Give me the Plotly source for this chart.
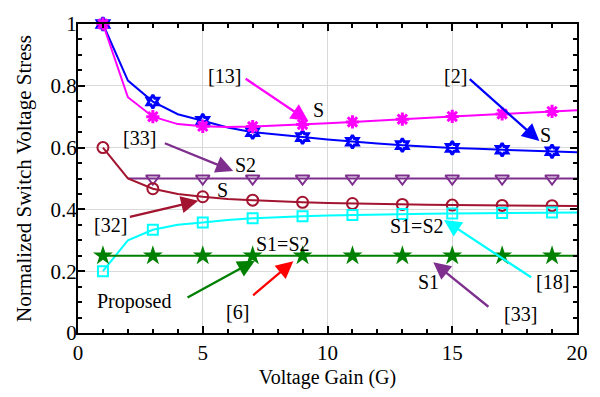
import plotly.graph_objects as go

# ---------------- data ----------------
gain = list(range(1, 21))
ref2_S = [1.0, 0.817, 0.749, 0.708, 0.687, 0.665, 0.650, 0.641, 0.634, 0.626,
          0.619, 0.613, 0.608, 0.603, 0.599, 0.596, 0.593, 0.590, 0.588, 0.585]
ref13_S = [1.0, 0.763, 0.700, 0.676, 0.669, 0.667, 0.668, 0.671, 0.675, 0.679,
           0.683, 0.688, 0.692, 0.697, 0.701, 0.705, 0.709, 0.713, 0.717, 0.721]
gain33 = list(range(2, 21))
ref33_S2 = [0.5] * 19
ref32_S = [0.600, 0.500, 0.467, 0.450, 0.441, 0.434, 0.430, 0.426, 0.423, 0.421,
           0.419, 0.417, 0.416, 0.415, 0.414, 0.413, 0.413, 0.412, 0.412, 0.411]
ref18_S = [0.200, 0.300, 0.334, 0.350, 0.358, 0.366, 0.371, 0.375, 0.378, 0.380,
           0.382, 0.383, 0.385, 0.386, 0.387, 0.388, 0.388, 0.389, 0.390, 0.390]
proposed = [0.25] * 20

x_ticks = [0, 5, 10, 15, 20]
y_ticks = [0, 0.2, 0.4, 0.6, 0.8, 1.0]

BLUE = "#0000FF"
MAG = "#FF00FF"
PURP = "#7E2F8E"
DRED = "#A2142F"
CYAN = "#00FFFF"
GREEN = "#008000"
RED = "#FF0000"
FONT = "Liberation Serif"

fig = go.Figure()

series = [
    (gain, ref2_S, BLUE, "hexagram-open", 10, 3, "[2]"),
    (gain, ref13_S, MAG, "asterisk-open", 11, 3, "[13]"),
    (gain33, ref33_S2, PURP, "triangle-down-open", 12, 2, "[33]"),
    (gain, ref32_S, DRED, "circle-open", 11, 2, "[32]"),
    (gain, ref18_S, CYAN, "square-open", 10, 2, "[18]"),
    (gain, proposed, GREEN, "star", 15, 0, "Proposed"),
]

for xs, ys, col, sym, size, mlw, name in series:
    fig.add_trace(go.Scatter(x=xs, y=ys, mode="lines", line=dict(color=col, width=2),
                             showlegend=False, hoverinfo="skip"))
    mx = [x for x in xs if x % 2 == 1]
    my = [y for x, y in zip(xs, ys) if x % 2 == 1]
    fig.add_trace(go.Scatter(x=mx, y=my, mode="markers", name=name, showlegend=False,
                             cliponaxis=False,
                             marker=dict(symbol=sym, size=size, color=col,
                                         line=dict(color=col, width=mlw))))

# ---------------- text labels ----------------
labels = [
    ("[13]", 5.89, 0.831), ("S", 9.62, 0.722),
    ("[2]", 15.15, 0.831), ("S", 18.72, 0.642),
    ("[33]", 2.48, 0.631), ("S2", 6.72, 0.545),
    ("S", 5.78, 0.464), ("[32]", 1.31, 0.35),
    ("S1=S2", 13.6, 0.347), ("[18]", 19.01, 0.165),
    ("S1", 14.03, 0.165), ("[33]", 17.74, 0.0625),
    ("Proposed", 2.26, 0.102), ("[6]", 6.38, 0.069),
    ("S1=S2", 8.2, 0.2875),
]
for t, x, y in labels:
    fig.add_annotation(x=x, y=y, text=t, showarrow=False, xanchor="center", yanchor="middle",
                       font=dict(family=FONT, size=20, color="black"))

# ---------------- arrows (tail -> tip) ----------------
arrows = [
    (6.66, 0.826, 9.23, 0.686, MAG),
    (15.64, 0.826, 18.49, 0.621, BLUE),
    (3.42, 0.616, 6.22, 0.524, PURP),
    (2.02, 0.375, 4.82, 0.428, DRED),
    (18.22, 0.177, 14.67, 0.366, CYAN),
    (16.51, 0.081, 14.24, 0.229, PURP),
    (4.33, 0.1125, 7.09, 0.234, GREEN),
    (6.96, 0.118, 8.63, 0.2325, RED),
]
for ax, ay, x, y, col in arrows:
    fig.add_annotation(x=x, y=y, ax=ax, ay=ay, xref="x", yref="y", axref="x", ayref="y",
                       text="", showarrow=True, arrowhead=2, arrowsize=1.5, arrowwidth=2.3,
                       arrowcolor=col, standoff=0, startstandoff=0)

axis_common = dict(
    showline=True, linecolor="black", linewidth=2, mirror="allticks",
    ticks="inside", ticklen=7, tickwidth=1.5, tickcolor="black",
    showgrid=True, gridcolor="#d9d9d9", gridwidth=1, zeroline=False,
    tickfont=dict(family=FONT, size=21, color="black"),
)

fig.update_xaxes(range=[0, 20], tickvals=x_ticks, ticktext=[str(v) for v in x_ticks],
                 minor=dict(dtick=1, tick0=0, ticks="inside", ticklen=4, tickcolor="black", showgrid=False),
                 title=dict(text="Voltage Gain (G)", font=dict(family=FONT, size=20, color="black"), standoff=6),
                 **axis_common)
fig.update_yaxes(range=[0, 1], tickvals=y_ticks, ticktext=["0", "0.2", "0.4", "0.6", "0.8", "1"],
                 minor=dict(dtick=0.05, tick0=0, ticks="inside", ticklen=4, tickcolor="black", showgrid=False),
                 ticklabelstandoff=-5,
                 title=dict(text="Normalized Switch Voltage Stress", font=dict(family=FONT, size=21, color="black"), standoff=13),
                 **axis_common)

fig.update_layout(width=600, height=397, margin=dict(l=78, r=23, t=13, b=64),
                  plot_bgcolor="white", paper_bgcolor="white", showlegend=False)

fig.write_html("out.html")
